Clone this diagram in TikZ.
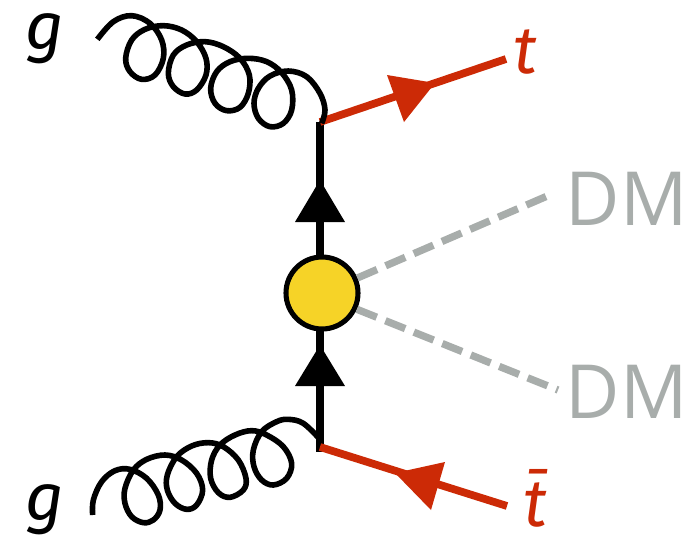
\documentclass[tikz,border=0pt]{standalone}
\usepackage{fontspec}
\setmainfont{Open Sans}
\newfontfamily\labelfont{Fira Sans}
\definecolor{topred}{HTML}{CC2A06}
\definecolor{dmgrey}{HTML}{A8ADAB}
\definecolor{blobyellow}{HTML}{F6D327}
\tikzset{
  gluonline/.style={line width=4.2pt,black,line join=round},
  fermion/.style={line width=6pt,black},
  topline/.style={line width=5.8pt,topred},
  dmline/.style={line width=5.5pt,dmgrey,dash pattern=on 16pt off 7pt},
  dmlabel/.style={text=dmgrey,font=\fontsize{56}{56}\selectfont,inner sep=0pt},
  toplabel/.style={text=topred,font=\labelfont\fontsize{50}{50}\selectfont\itshape,inner sep=0pt},
  glabel/.style={text=black,font=\labelfont\fontsize{50}{50}\selectfont\itshape,inner sep=0pt},
  blob/.style={circle,draw=black,fill=blobyellow,line width=3.8pt,minimum size=54pt,inner sep=0pt},
}
\begin{document}
\begin{tikzpicture}[x=0.75pt,y=-0.75pt]
\useasboundingbox (0,0) rectangle (687,537);
\coordinate (vtop) at (320,122);
\coordinate (vbot) at (320,452);
\coordinate (vbotred) at (320,447);
\coordinate (tend) at (506,59);
\coordinate (tbarend) at (507,506);
\coordinate (dmaend) at (552,194);
\coordinate (dmbend) at (558,390);
\draw[fermion] (vtop) -- (vbot);
\draw[topline] (vtop) -- (tend);
\draw[topline] (vbotred) -- (tbarend);
\fill[topred] (387,75) -- (435,83) -- (404,122) -- cycle;
\fill[topred] (445,462) -- (395,473) -- (431,510) -- cycle;
\fill[black] (320,180) -- (345,222) -- (295,222) -- cycle;
\fill[black] (320,345) -- (345,386) -- (295,386) -- cycle;
\node[blob] (core) at (322,293) {};
\draw[dmline] (core.23) -- (dmaend);
\draw[dmline] (core.-25) -- (dmbend);
\node[dmlabel] (dma) at (626.5,199) {DM};
\node[dmlabel] (dmb) at (626.5,392) {DM};
\node[glabel] (gt) at (45,39) {g};
\node[glabel] (gb) at (45,510) {g};
\node[toplabel] (tl) at (525,52) {t};
\node[toplabel] (tb) at (535,498) {t̄};
\begin{scope}[shift={(80,0)},x=0.25pt,y=-0.25pt]
\draw[gluonline] plot[smooth,tension=0.6] coordinates {(52,118)(100,65)(155,47)(210,70)(245,120)(250,175)(225,225)(185,238)(150,215)(137,175)(155,120)(195,88)(250,77)(305,90)(350,125)(378,175)(378,225)(350,270)(315,282)(280,260)(265,220)(280,165)(320,135)(375,125)(430,140)(480,175)(508,225)(505,280)(480,322)(440,332)(405,310)(392,265)(410,215)(450,185)(505,175)(560,185)(605,218)(635,270)(635,330)(610,370)(570,380)(535,355)(522,310)(535,265)(570,228)(625,213)(680,230)(720,280)(735,330)(725,370)};
\end{scope}
\begin{scope}[shift={(80,400)},x=0.25pt,y=-0.25pt]
\draw[gluonline] plot[smooth,tension=0.6] coordinates {(38,345)(40,300)(65,245)(105,212)(150,208)(200,235)(235,285)(240,330)(220,360)(190,368)(155,350)(135,310)(135,265)(160,210)(200,178)(255,165)(305,180)(350,220)(368,270)(350,315)(320,328)(285,310)(262,270)(262,225)(290,170)(335,138)(385,128)(430,140)(475,180)(498,235)(490,270)(450,292)(415,278)(392,235)(395,180)(420,135)(465,105)(515,92)(560,105)(610,140)(635,190)(620,235)(580,255)(545,240)(522,200)(520,150)(545,95)(590,65)(625,58)(670,70)(720,118)};
\end{scope}
\end{tikzpicture}
\end{document}
